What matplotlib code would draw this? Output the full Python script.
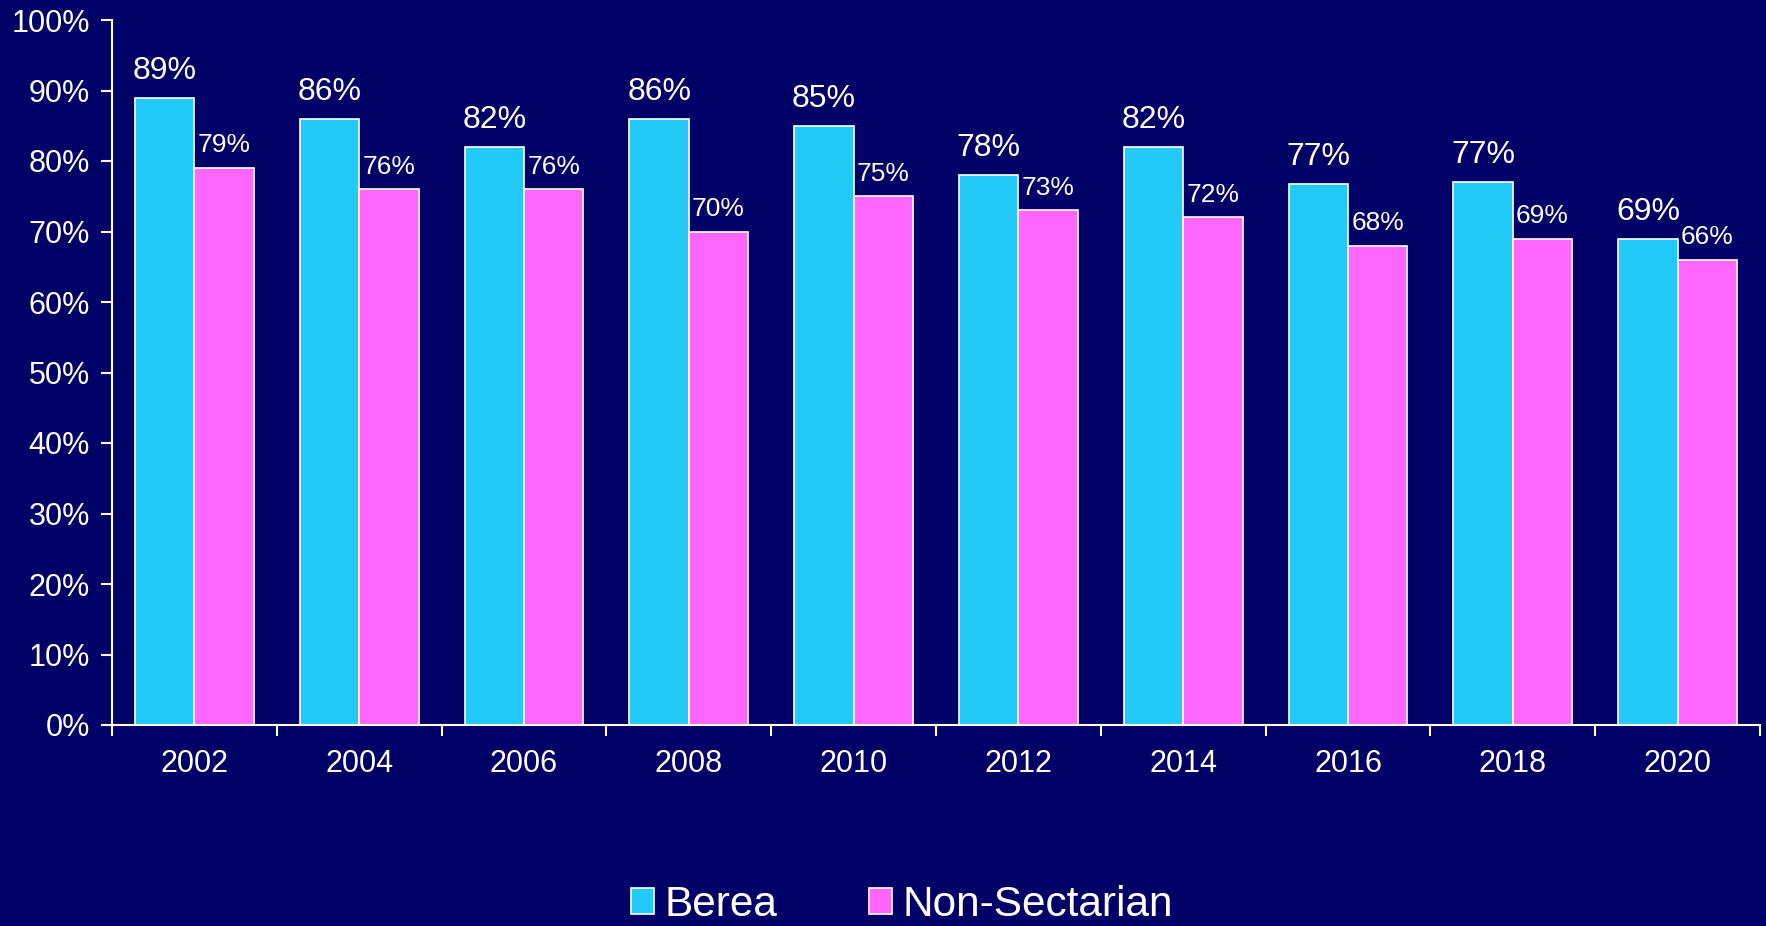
#!/usr/bin/env python3
# Berea vs Non-Sectarian, bar chart by survey year

import numpy as np
import matplotlib
matplotlib.use('Agg')
import matplotlib.pyplot as plt
from matplotlib.ticker import MultipleLocator, FuncFormatter

years = ['2002', '2004', '2006', '2008', '2010', '2012', '2014', '2016', '2018', '2020']
berea = [89, 86, 82, 86, 85, 78, 82, 76.8, 77, 69]
non_sectarian = [79, 76, 76, 70, 75, 73, 72, 68, 69, 66]
series_names = ['Berea', 'Non-Sectarian']

bg = '#000066'
c_berea = '#22CBF7'
c_non = '#FF66FF'

plt.rcParams['font.family'] = ['Liberation Sans', 'DejaVu Sans']

fig = plt.figure(figsize=(17.66, 9.26), dpi=100, facecolor=bg)
ax = fig.add_axes([112/1766, 1 - 725/926, (1760 - 112)/1766, (725 - 20)/926])
ax.set_facecolor(bg)

x = np.arange(len(years))
w = 0.36
b1 = ax.bar(x - w/2, berea, w, color=c_berea, edgecolor='white', linewidth=1.2,
            label=series_names[0])
b2 = ax.bar(x + w/2, non_sectarian, w, color=c_non, edgecolor='white', linewidth=1.2,
            label=series_names[1])

# value labels
for xi, v in zip(x, berea):
    ax.text(xi - w/2, v + 1.7, '{:.0f}%'.format(v), ha='center', va='bottom',
            color='white', fontsize=23)
for xi, v in zip(x, non_sectarian):
    ax.text(xi + w/2, v + 1.5, '{:.0f}%'.format(v), ha='center', va='bottom',
            color='white', fontsize=19)

ax.set_ylim(0, 100)
ax.set_xlim(-0.5, len(years) - 0.5)
ax.yaxis.set_major_locator(MultipleLocator(10))
ax.yaxis.set_major_formatter(FuncFormatter(lambda v, p: '{:.0f}%'.format(v)))

ax.set_xticks(x)
ax.set_xticklabels(years)
ax.set_xticks(np.arange(-0.5, len(years)), minor=True)
ax.tick_params(axis='x', which='major', length=0, pad=17, labelsize=22, colors='white')
ax.tick_params(axis='x', which='minor', length=8, width=1.5, color='white')
ax.tick_params(axis='y', which='major', length=8, width=1.5, pad=8, labelsize=22,
               colors='white')

for s in ['top', 'right']:
    ax.spines[s].set_visible(False)
for s in ['left', 'bottom']:
    ax.spines[s].set_color('white')
    ax.spines[s].set_linewidth(1.5)

leg = fig.legend(handles=[b1, b2], loc='center', bbox_to_anchor=(902/1766, 1 - 905/926),
                 ncol=2, frameon=False, fontsize=30.5, handlelength=0.55, handleheight=0.55,
                 handletextpad=0.25, columnspacing=2.15, labelcolor='white',
                 borderpad=0.1)

fig.savefig('out.png', dpi=100, facecolor=bg)
